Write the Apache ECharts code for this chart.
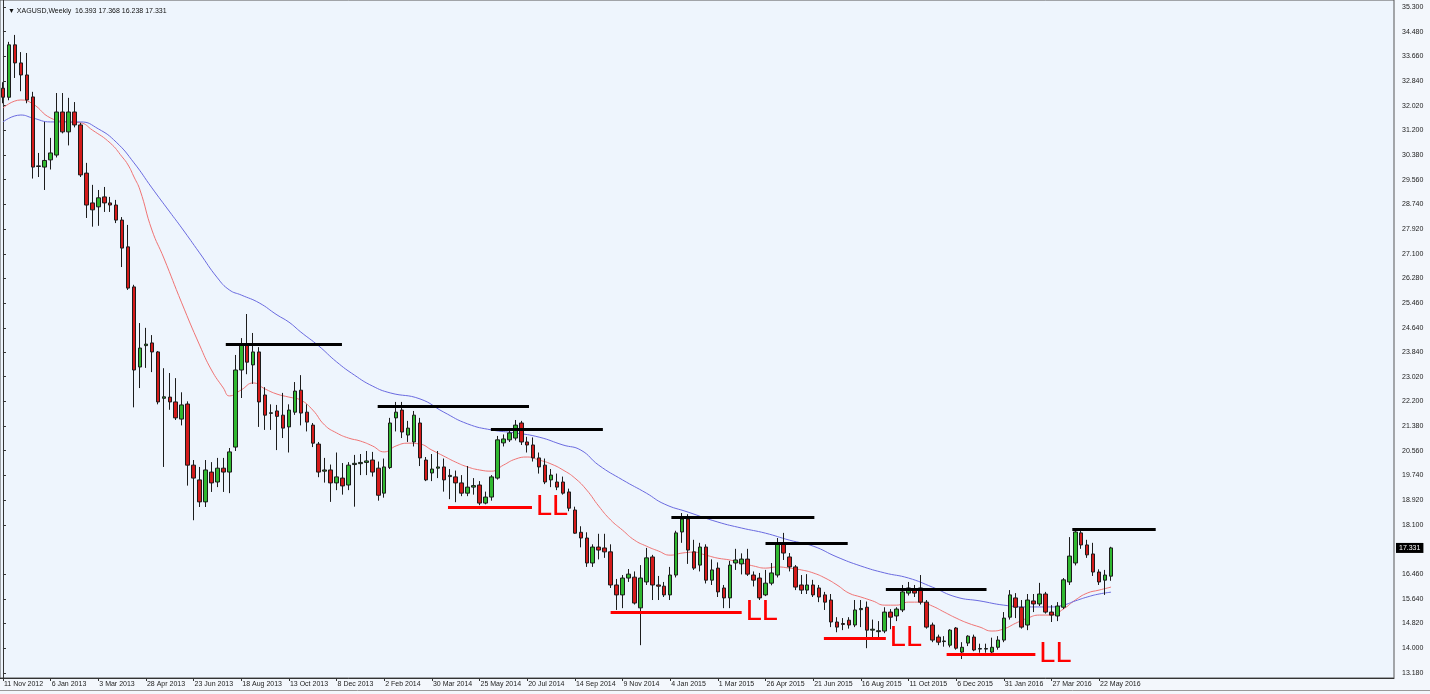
<!DOCTYPE html>
<html>
<head>
<meta charset="utf-8">
<script src="https://cdn.jsdelivr.net/npm/echarts@6/dist/echarts.min.js"></script>
<style>
html,body{margin:0;padding:0;background:#f3f7fc;}
#chart{width:1430px;height:694px;}
</style>
</head>
<body>
<div id="chart"></div>
<script>
// ---- data ----
const xTickLabels = ['11 Nov 2012','6 Jan 2013','3 Mar 2013','28 Apr 2013','23 Jun 2013','18 Aug 2013','13 Oct 2013','8 Dec 2013','2 Feb 2014','30 Mar 2014','25 May 2014','20 Jul 2014','14 Sep 2014','9 Nov 2014','4 Jan 2015','1 Mar 2015','26 Apr 2015','21 Jun 2015','16 Aug 2015','11 Oct 2015','6 Dec 2015','31 Jan 2016','27 Mar 2016','22 May 2016'];
const yTickValues = [35.300,34.480,33.660,32.840,32.020,31.200,30.380,29.560,28.740,27.920,27.100,26.280,25.460,24.640,23.840,23.020,22.200,21.380,20.560,19.740,18.920,18.100,16.460,15.640,14.820,14.000,13.180];

const opens = [32.6,32.3,34.04,33.44,33.04,32.31,30.0,29.98,30.22,30.38,
31.81,31.15,31.81,31.38,29.78,28.79,28.66,28.99,28.79,28.72,
28.22,27.33,26.0,23.34,24.05,24.14,23.84,22.3,22.34,22.18,
21.61,22.11,20.08,19.59,18.86,19.85,19.52,19.98,19.85,20.68,
23.24,24.07,23.41,23.84,22.41,21.8,21.88,21.74,21.35,21.84,
22.57,21.84,21.41,20.78,19.88,19.92,19.49,19.65,19.42,20.1,
20.13,20.17,20.25,19.98,19.15,20.0,21.65,21.91,21.08,20.85,
21.48,20.25,19.82,19.98,20.02,19.7,19.69,19.49,19.15,19.35,
19.42,18.82,19.02,19.65,20.82,20.92,20.98,21.48,20.85,20.75,
20.32,20.08,19.59,19.52,19.52,19.19,18.59,17.85,17.66,16.83,
17.36,17.33,17.2,16.1,15.77,16.33,16.36,15.34,16.2,17.03,
16.1,16.06,15.77,16.43,17.86,18.29,17.2,16.76,17.36,16.26,
16.66,16.0,15.67,16.83,16.8,16.96,16.43,16.33,15.77,16.16,
16.43,17.49,17.03,16.7,16.1,15.93,16.1,16.0,15.77,15.6,
14.87,14.82,14.93,14.77,15.28,15.36,14.6,14.55,14.57,15.2,
15.07,15.27,15.83,15.93,16.0,15.53,14.77,14.37,14.22,14.1,
14.67,13.87,14.17,14.37,13.97,13.97,13.87,14.03,14.27,15.03,
15.67,15.36,14.77,15.57,15.47,15.8,15.2,15.07,15.36,16.2,
16.83,17.83,17.43,17.13,16.53,16.26,16.393];
const closes = [32.3,34.04,33.44,33.04,32.21,29.98,30.02,30.2,30.45,31.81,
31.15,31.81,31.38,29.72,28.72,28.56,28.96,28.79,28.72,28.22,
27.29,25.96,23.24,23.97,24.1,23.84,22.18,22.35,22.18,21.65,
22.08,20.08,19.65,18.86,19.92,19.49,19.98,19.85,20.52,23.24,
24.07,23.5,23.84,22.18,21.74,21.82,21.7,21.31,21.91,22.54,
21.81,21.51,20.81,19.85,19.92,19.49,19.69,19.39,20.08,20.14,
20.17,20.22,19.85,19.08,20.02,21.48,21.84,21.18,21.31,21.74,
20.32,19.59,19.95,20.02,19.59,19.74,19.49,19.15,19.35,19.4,
18.82,19.02,19.69,20.92,20.95,21.15,21.41,20.85,20.75,20.32,
20.02,19.52,19.75,19.35,19.15,18.65,17.82,17.66,16.83,17.36,
17.26,17.2,16.1,15.77,16.33,16.46,15.5,16.33,17.0,16.1,
16.06,15.77,16.43,17.83,18.29,17.26,16.66,17.36,16.26,16.6,
15.87,15.67,16.76,16.93,16.96,16.46,16.26,15.67,16.16,16.5,
17.49,17.16,16.7,16.03,15.93,16.1,15.77,15.7,15.53,14.87,
14.7,14.79,14.77,15.27,15.32,14.6,14.63,14.58,15.2,15.03,
15.3,15.87,16.0,15.83,15.53,14.7,14.27,14.2,14.24,14.6,
14.0,14.03,14.4,13.94,13.99,13.99,14.03,14.27,15.0,15.77,
15.36,14.7,15.6,15.47,15.8,15.2,15.1,15.4,16.27,17.06,
17.86,17.43,17.1,16.53,16.2,16.43,17.331];
const lows = [32.1,32.2,32.94,32.5,32.1,29.6,29.65,29.22,29.9,30.3,
31.1,30.7,31.3,29.65,28.29,28.0,28.03,28.49,28.49,28.12,
26.66,25.9,22.0,22.64,23.31,23.17,22.1,20.02,21.92,21.58,
21.4,19.4,18.25,18.69,18.69,19.19,19.35,19.19,19.15,20.55,
22.31,23.1,22.78,21.35,21.25,21.25,20.58,20.98,20.5,21.75,
21.4,21.2,20.68,19.68,19.5,18.86,19.25,19.1,19.25,18.7,
19.75,19.75,19.7,18.9,19.0,19.95,21.2,20.98,20.85,20.7,
20.05,19.55,19.55,19.65,19.2,18.95,18.85,19.05,19.05,19.1,
18.75,18.78,18.9,19.6,20.7,20.85,20.9,20.75,20.5,20.2,
19.8,19.45,19.35,19.25,19.1,18.55,17.8,17.35,16.7,16.7,
16.95,17.0,16.0,15.27,15.33,16.2,15.45,14.1,16.1,15.6,
15.6,15.7,15.6,16.35,17.5,16.8,16.6,16.55,16.15,16.1,
15.7,15.33,15.33,16.6,16.45,16.4,16.05,15.6,15.73,16.09,
16.35,16.93,16.55,15.93,15.8,15.8,15.7,15.53,15.27,14.7,
14.53,14.6,14.65,14.7,14.7,14.0,14.37,14.3,14.5,14.63,
14.9,15.2,15.75,15.7,15.45,14.65,14.2,14.1,14.05,14.03,
13.95,13.64,14.07,13.9,13.85,13.85,13.8,13.95,14.2,14.95,
15.0,14.65,14.6,15.2,15.4,15.15,14.87,14.9,15.3,16.1,
16.75,17.3,17.0,16.4,16.1,15.77,16.238];
const highs = [32.8,34.14,34.37,33.8,33.77,32.48,30.45,31.48,30.95,32.44,
32.44,32.28,32.14,31.45,30.12,29.39,29.22,29.32,28.99,28.89,
28.32,28.06,26.07,24.8,24.64,24.4,23.87,23.3,23.14,22.97,
22.5,22.2,20.25,20.02,20.25,20.18,20.32,20.32,20.65,23.74,
24.3,25.1,24.47,24.0,22.67,22.1,22.08,22.48,22.1,22.84,
23.07,22.1,21.48,20.85,20.32,20.1,20.5,20.15,20.18,20.42,
20.45,20.55,20.52,20.2,20.3,21.65,22.18,22.18,21.55,21.88,
21.65,20.35,20.45,20.55,20.3,19.95,19.9,19.75,20.05,19.65,
19.55,19.2,19.75,21.05,21.1,21.25,21.58,21.55,21.02,21.0,
20.5,20.3,19.95,19.8,19.7,19.3,18.7,18.05,17.85,17.45,
17.8,17.8,17.45,16.3,16.43,16.63,16.55,16.76,17.33,17.1,
16.4,16.2,16.7,17.9,18.49,18.45,17.6,17.5,17.45,16.95,
16.85,16.1,16.9,17.3,17.15,17.3,16.55,16.5,16.6,16.83,
17.66,17.83,17.16,16.76,16.43,16.46,16.27,16.1,15.87,15.8,
15.03,15.0,15.03,15.6,15.6,15.55,14.95,14.9,15.36,15.3,
15.36,16.1,16.2,16.1,16.43,15.6,14.85,14.45,14.4,14.63,
14.7,14.2,14.43,14.45,14.15,14.15,14.35,14.4,15.2,15.93,
15.83,15.6,15.8,15.8,16.17,15.87,15.43,15.53,16.33,17.69,
17.99,17.99,17.6,17.5,16.62,16.6,17.368];

// moving averages: [week index, price]
const redMA = [[0,31.94],[3,32.21],[5,32.08],[8,31.61],[11,31.48],[13,31.45],[15,31.21],[18,30.78],[20,30.32],[21,30.05],[22,29.65],[23,29.22],[25,27.89],[27,26.96],[30,25.47],[33,24.07],[35,23.24],[37,22.64],[38,22.38],[40,22.58],[42,22.81],[44,22.61],[46,22.44],[48,22.34],[50,22.24],[52,21.91],[54,21.41],[56,21.15],[58,20.98],[60,20.88],[62,20.72],[64,20.52],[66,20.72],[68,20.81],[70,20.78],[72,20.58],[74,20.38],[76,20.18],[78,20.02],[80,19.92],[82,19.88],[84,20.08],[86,20.28],[88,20.35],[90,20.25],[92,20.12],[94,19.92],[96,19.65],[98,19.25],[100,18.72],[102,18.26],[104,17.92],[106,17.59],[108,17.39],[110,17.23],[112,17.09],[114,17.16],[116,17.19],[118,17.09],[120,16.99],[122,16.93],[124,16.83],[126,16.73],[128,16.66],[130,16.7],[132,16.66],[134,16.6],[136,16.5],[138,16.33],[140,16.1],[142,15.83],[144,15.7],[146,15.57],[148,15.43],[150,15.43],[152,15.53],[154,15.53],[156,15.4],[158,15.2],[160,15.0],[162,14.83],[164,14.7],[166,14.57],[168,14.64],[170,14.83],[172,15.0],[174,15.1],[176,15.1],[178,15.3],[180,15.6],[182,15.83],[184,15.93],[186,16.03]];
const blueMA = [[0,31.48],[3,31.71],[5,31.61],[8,31.48],[13,31.48],[16,31.25],[19,30.81],[22,30.12],[25,29.29],[28,28.49],[30,27.96],[33,27.13],[36,26.3],[38,25.9],[40,25.73],[43,25.47],[46,25.07],[48,24.83],[50,24.5],[53,24.04],[56,23.51],[59,23.07],[62,22.71],[65,22.48],[70,22.28],[74,21.84],[78,21.45],[82,21.25],[86,21.15],[90,21.01],[94,20.75],[97,20.58],[100,20.08],[104,19.59],[108,19.15],[111,18.79],[115,18.52],[120,18.19],[124,17.99],[128,17.82],[132,17.59],[136,17.39],[140,17.03],[144,16.73],[148,16.5],[152,16.33],[156,16.03],[160,15.7],[164,15.57],[168,15.43],[172,15.37],[176,15.37],[178,15.43],[180,15.57],[182,15.7],[184,15.8],[186,15.86]];

// hand-drawn levels: [startWeek, endWeek, price]
const resistanceLines = [[37.4,56.9,24.10],[62.9,88.3,22.04],[81.9,100.7,21.28],[112.2,136.2,18.36],[128.0,141.8,17.49],[148.2,165.1,15.96],[179.5,193.5,17.96]];
const supportLines = [[74.7,88.8,18.68],[102.0,124.0,15.20],[137.8,148.2,14.33],[158.4,173.3,13.81]];
const supportLabel = 'LL';
const lastPrice = 17.331;
const headerText = '\u25BC XAGUSD,Weekly  16.393 17.368 16.238 17.331';

// ---- build ----
const N = 234;
const months = ['Jan','Feb','Mar','Apr','May','Jun','Jul','Aug','Sep','Oct','Nov','Dec'];
const categories = [];
for (let i = 0; i < N; i++) {
  const d = new Date(Date.UTC(2012, 10, 11 + 7 * i));
  categories.push(d.getUTCDate() + ' ' + months[d.getUTCMonth()] + ' ' + d.getUTCFullYear());
}
const candles = opens.map((o, i) => [o, closes[i], lows[i], highs[i]]);
const showTick = (idx) => idx % 8 === 0 && idx / 8 < xTickLabels.length;

const FONT = 'Liberation Sans';
const lineData = [];
resistanceLines.forEach(r => {
  lineData.push([
    {coord: [r[0], r[2]], lineStyle: {color: '#000', width: 3, type: 'solid'}, label: {show: false}},
    {coord: [r[1], r[2]]}
  ]);
});
supportLines.forEach(r => {
  lineData.push([
    {coord: [r[0], r[2]], lineStyle: {color: '#ff0000', width: 3, type: 'solid'},
     label: {show: true, position: 'end', formatter: supportLabel, color: '#ff0000', fontSize: 29, fontFamily: FONT, distance: 4}},
    {coord: [r[1], r[2]]}
  ]);
});

const chart = echarts.init(document.getElementById('chart'));
chart.setOption({
  animation: false,
  backgroundColor: '#f3f7fc',
  title: {
    text: headerText, left: 3, top: 3,
    textStyle: {fontSize: 7, fontWeight: 'normal', color: '#111', fontFamily: FONT}
  },
  grid: {left: 0, right: 36, top: 0, bottom: 16, show: true, backgroundColor: '#eef5fd', borderColor: '#555', borderWidth: 1},
  xAxis: [{
    type: 'category', data: categories, boundaryGap: true,
    axisLine: {lineStyle: {color: '#333', width: 1}},
    axisTick: {show: true, interval: (i) => showTick(i), alignWithLabel: true, length: 3, lineStyle: {color: '#333'}},
    axisLabel: {
      interval: (i) => showTick(i), align: 'left', margin: 3, padding: [0, 0, 0, 1],
      fontSize: 7, color: '#222', fontFamily: FONT,
      formatter: (v, i) => xTickLabels[i / 8] || ''
    },
    splitLine: {show: false}
  }, {
    type: 'value', min: -0.5, max: N - 0.5, show: false
  }],
  yAxis: {
    type: 'value', position: 'right', min: 13.01, max: 35.53, scale: true,
    axisLine: {show: true, lineStyle: {color: '#333'}},
    axisTick: {show: true, length: 3, customValues: yTickValues, lineStyle: {color: '#333'}},
    axisLabel: {customValues: yTickValues, fontSize: 7, color: '#222', fontFamily: FONT, margin: 8,
      formatter: (v) => v.toFixed(3)},
    splitLine: {show: false}
  },
  series: [{
    type: 'candlestick', xAxisIndex: 0, data: candles, barWidth: 4,
    itemStyle: {color: '#30b830', color0: '#d41a1a', borderColor: '#1c1c1c', borderColor0: '#1c1c1c', borderWidth: 1},
    markLine: {
      symbol: ['none', 'none'], silent: true, animation: false,
      data: [{yAxis: lastPrice, lineStyle: {color: 'rgba(0,0,0,0)', width: 0},
        label: {show: true, position: 'end', formatter: lastPrice.toFixed(3), backgroundColor: '#000', color: '#fff',
          fontSize: 7, fontFamily: FONT, padding: [2, 3, 1, 3], distance: 2}}]
    }
  }, {
    type: 'line', xAxisIndex: 1, data: redMA, smooth: true, symbol: 'none',
    lineStyle: {color: '#f07474', width: 1}, z: 1
  }, {
    type: 'line', xAxisIndex: 1, data: blueMA, smooth: true, symbol: 'none',
    lineStyle: {color: '#6a6ae0', width: 1}, z: 1,
    markLine: {symbol: ['none', 'none'], silent: true, animation: false, data: lineData}
  }],
  graphic: [{
    type: 'line', shape: {x1: 0, y1: 690.5, x2: 1430, y2: 690.5}, style: {stroke: '#999', lineWidth: 1}
  }]
});
</script>
</body>
</html>
